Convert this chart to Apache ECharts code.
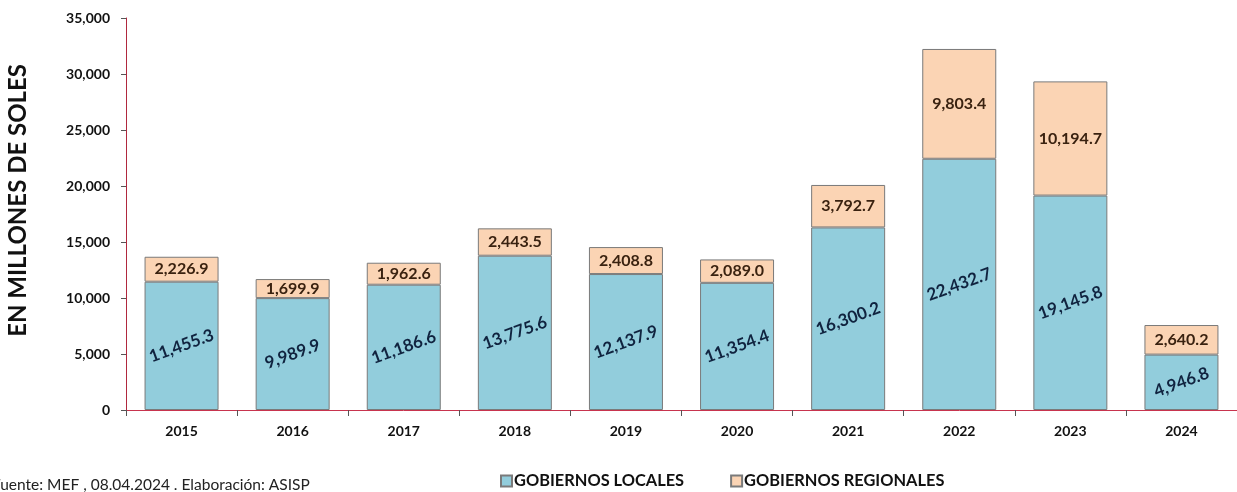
<!DOCTYPE html>
<html>
<head>
<meta charset="utf-8">
<script src="https://cdn.jsdelivr.net/npm/echarts@6/dist/echarts.min.js"></script>
<style>
html,body{margin:0;padding:0;background:#fff;}
#c{width:1237px;height:492px;}
</style>
</head>
<body>
<div id="c"></div>
<script>
const years = ['2015','2016','2017','2018','2019','2020','2021','2022','2023','2024'];
const locales = [11455.3, 9989.9, 11186.6, 13775.6, 12137.9, 11354.4, 16300.2, 22432.7, 19145.8, 4946.8];
const regionales = [2226.9, 1699.9, 1962.6, 2443.5, 2408.8, 2089.0, 3792.7, 9803.4, 10194.7, 2640.2];
const seriesNames = ['GOBIERNOS LOCALES', 'GOBIERNOS REGIONALES'];
const yAxisTitle = 'EN MILLONES DE SOLES';
const sourceNote = 'Fuente: MEF , 08.04.2024 . Elaboración: ASISP';

const fmt = v => v.toLocaleString('en-US', {minimumFractionDigits: 1, maximumFractionDigits: 1});
const FONT = 'Lato';
const chart = echarts.init(document.getElementById('c'));
chart.setOption({
  animation: false,
  textStyle: {fontFamily: FONT},
  grid: {left: 126, right: -16, top: 18, bottom: 82, containLabel: false},
  legend: {
    bottom: -2, left: 495, itemGap: 46, itemWidth: 11, itemHeight: 11,
    icon: 'rect',
    textStyle: {fontFamily: FONT, fontWeight: 'bold', fontSize: 16.4, color: '#111', padding: [0,0,0,-3]},
    data: seriesNames
  },
  xAxis: {
    type: 'category', data: years,
    axisLine: {lineStyle: {color: '#c8344e', width: 1}},
    axisTick: {show: true, length: 6, lineStyle: {color: '#555'}},
    axisLabel: {fontFamily: FONT, fontWeight: 'bold', fontSize: 14, color: '#111', margin: 14}
  },
  yAxis: {
    type: 'value', min: 0, max: 35000, interval: 5000,
    splitLine: {show: false},
    axisLine: {show: true, lineStyle: {color: '#b0283e', width: 1}},
    axisTick: {show: true, length: 5, lineStyle: {color: '#555'}},
    axisLabel: {fontFamily: FONT, fontWeight: 'bold', fontSize: 14, color: '#111', margin: 16,
      formatter: v => v.toLocaleString('en-US')}
  },
  graphic: [
    {type: 'text', left: 6, top: 64, rotation: Math.PI/2,
      style: {text: yAxisTitle, fontFamily: FONT, fontWeight: 'bold', fontSize: 24, fill: '#111'}},
    {type: 'text', left: -8, top: 477,
      style: {text: sourceNote, fontFamily: FONT, fontSize: 15.5, fill: '#222'}}
  ],
  series: [
    {
      name: seriesNames[0], type: 'bar', stack: 't', data: locales, barWidth: 74,
      itemStyle: {color: '#92CDDC', borderColor: '#7a7a7a', borderWidth: 1},
      label: {show: true, position: 'inside', rotate: 20, formatter: p => fmt(p.value),
        fontFamily: FONT, fontWeight: 'bold', fontSize: 17, color: '#10233f'}
    },
    {
      name: seriesNames[1], type: 'bar', stack: 't', data: regionales, barWidth: 74,
      itemStyle: {color: '#FBD4B4', borderColor: '#7a7a7a', borderWidth: 1},
      label: {show: true, position: 'inside', formatter: p => fmt(p.value),
        fontFamily: FONT, fontWeight: 'bold', fontSize: 16, color: '#3a2210'}
    }
  ]
});
</script>
</body>
</html>
